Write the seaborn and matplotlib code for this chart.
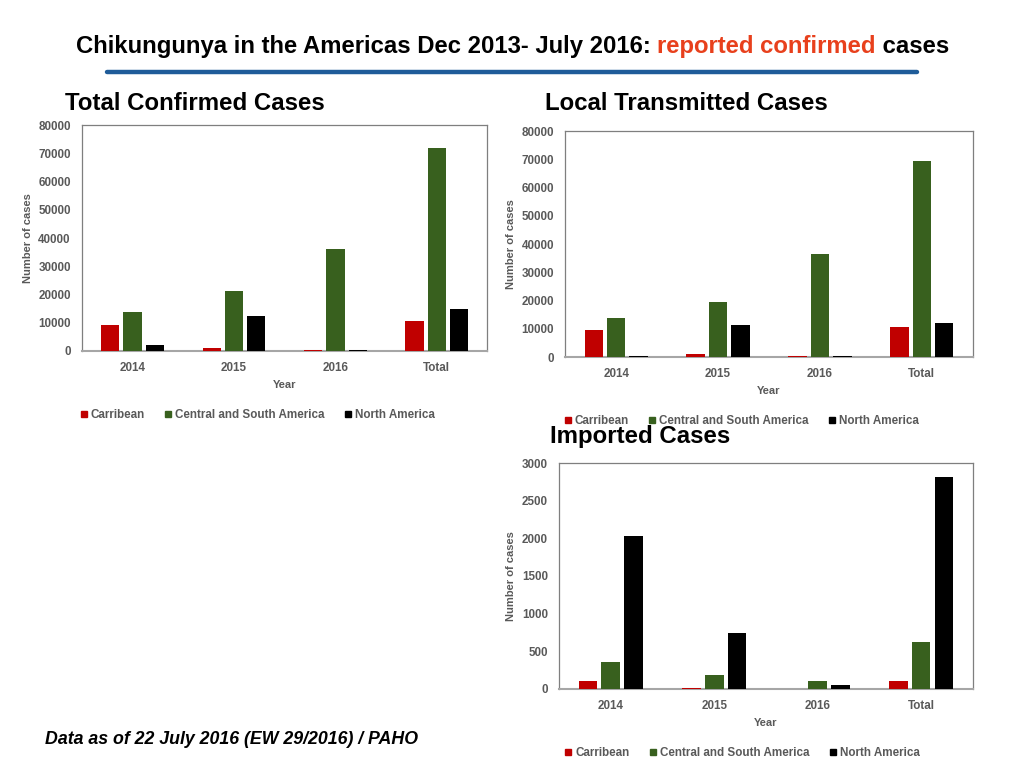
import matplotlib
matplotlib.use("Agg")
import matplotlib.pyplot as plt
import seaborn as sns
import pandas as pd
from matplotlib.lines import Line2D

# ---- data ----
years = ["2014", "2015", "2016", "Total"]
regions = ["Carribean", "Central and South America", "North America"]

total_carribean = [9200, 900, 200, 10500]
total_csa = [13900, 21400, 36300, 71900]
total_na = [2200, 12300, 300, 15000]

local_carribean = [9500, 1100, 400, 10500]
local_csa = [13900, 19600, 36400, 69600]
local_na = [450, 11500, 450, 12200]

imported_carribean = [106, 18, 2, 110]
imported_csa = [362, 181, 110, 622]
imported_na = [2038, 737, 53, 2819]

colors = ["#C00000", "#38601E", "#000000"]

sns.set_theme(style="white")
plt.rcParams['font.family'] = ['Liberation Sans', 'DejaVu Sans']
plt.rcParams['text.color'] = 'black'

GRAY = "#595959"

def make_df(a, b, c):
    rows = []
    for vals, reg in zip([a, b, c], regions):
        for y, v in zip(years, vals):
            rows.append({"Year": y, "Region": reg, "Cases": v})
    return pd.DataFrame(rows)

fig = plt.figure(figsize=(10.24, 7.68), dpi=100)

def draw(rect, df, ymax, ystep, legend_x, legend_y):
    ax = fig.add_axes(rect)
    sns.barplot(data=df, x="Year", y="Cases", hue="Region", order=years,
                hue_order=regions, palette=colors, width=0.66, gap=0.18,
                saturation=1, linewidth=0, ax=ax, legend=False)
    for p in ax.patches:
        p.set_zorder(3)
        p.set_linewidth(0)
    ax.set_xlim(-0.5, 3.5)
    ax.set_ylim(0, ymax)
    ax.set_yticks(range(0, ymax + 1, ystep))
    ax.set_xlabel("Year", fontsize=8, fontweight="bold", color=GRAY, labelpad=4)
    ax.set_ylabel("Number of cases", fontsize=8, fontweight="bold", color=GRAY, labelpad=4)
    ax.tick_params(axis="both", length=0, labelsize=8.4, labelcolor=GRAY, pad=8)
    for lab in ax.get_xticklabels() + ax.get_yticklabels():
        lab.set_fontweight("bold")
    for s in ax.spines.values():
        s.set_visible(True)
        s.set_color("#7F7F7F")
        s.set_linewidth(0.9)
    ax.spines["bottom"].set_color("#A6A6A6")
    ax.spines["bottom"].set_linewidth(1.5)
    handles = [Line2D([0], [0], marker="s", color="w", markerfacecolor=c,
                      markeredgecolor=c, markersize=5, linestyle="")
               for c in colors]
    ax.legend(handles, regions, loc="center", bbox_to_anchor=(legend_x, legend_y),
              ncol=3, frameon=False, handletextpad=0.1, columnspacing=1.5,
              prop={"size": 8.4, "weight": "bold"}, labelcolor=GRAY,
              handlelength=1.0)
    return ax

draw([0.080, 0.543, 0.396, 0.294], make_df(total_carribean, total_csa, total_na),
     80000, 10000, 0.43, -0.285)
draw([0.552, 0.535, 0.398, 0.294], make_df(local_carribean, local_csa, local_na),
     80000, 10000, 0.43, -0.285)
draw([0.546, 0.103, 0.404, 0.294], make_df(imported_carribean, imported_csa, imported_na),
     3000, 500, 0.44, -0.285)

# ---- title ----
TS = 17.2
t1 = fig.text(0.074, 0.940, "Chikungunya in the Americas Dec 2013- July 2016: ",
              fontsize=TS, fontweight="bold", color="black", va="center", ha="left")
fig.canvas.draw()
bb = t1.get_window_extent()
x2 = bb.x1 / fig.bbox.width
t2 = fig.text(x2, 0.940, "reported confirmed", fontsize=TS, fontweight="bold",
              color="#E8401C", va="center", ha="left")
fig.canvas.draw()
bb2 = t2.get_window_extent()
x3 = bb2.x1 / fig.bbox.width
fig.text(x3, 0.940, " cases", fontsize=TS, fontweight="bold", color="black",
         va="center", ha="left")

fig.add_artist(Line2D([107 / 1024, 917 / 1024], [1 - 72 / 768, 1 - 72 / 768],
                      color="#1F5C99", linewidth=3.2, transform=fig.transFigure))

# ---- panel titles ----
fig.text(0.0635, 1 - 103 / 768, "Total Confirmed Cases", fontsize=17.3,
         fontweight="bold", color="black", va="center", ha="left")
fig.text(0.532, 1 - 103 / 768, "Local Transmitted Cases", fontsize=17.3,
         fontweight="bold", color="black", va="center", ha="left")
fig.text(0.537, 1 - 437 / 768, "Imported Cases", fontsize=17.3,
         fontweight="bold", color="black", va="center", ha="left")

fig.text(0.044, 1 - 740 / 768, "Data as of 22 July 2016 (EW 29/2016) / PAHO",
         fontsize=12.8, fontweight="bold", style="italic", color="black",
         va="center", ha="left")

fig.savefig("out.png", dpi=100)
